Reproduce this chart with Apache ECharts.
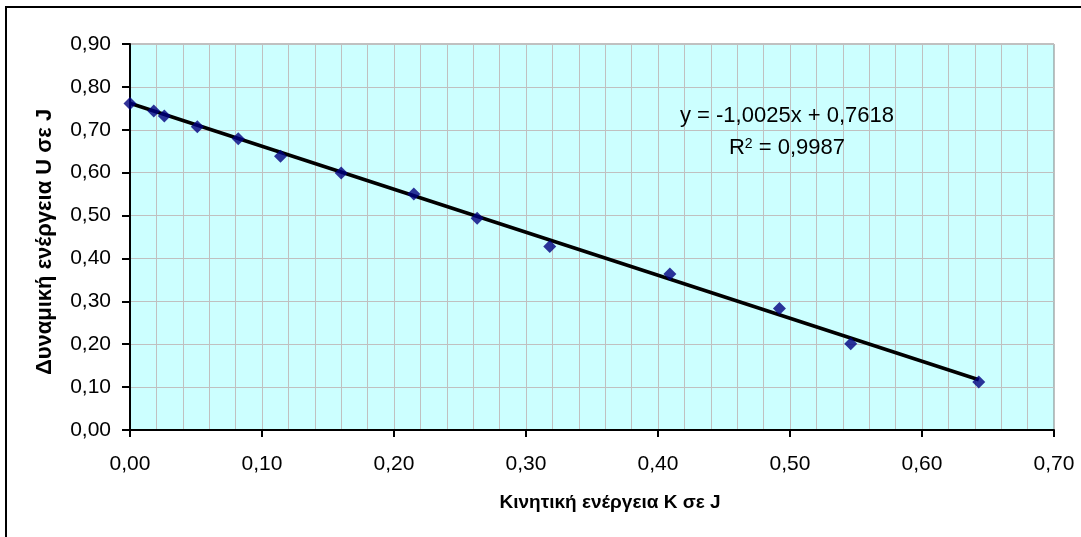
<!DOCTYPE html>
<html>
<head>
<meta charset="utf-8">
<script src="https://cdn.jsdelivr.net/npm/echarts@6/dist/echarts.min.js"></script>
<style>
  html, body { margin: 0; padding: 0; background: #fff; }
  #main { width: 1081px; height: 537px; }
</style>
</head>
<body>
<div id="main"></div>
<script>
// Measured points: kinetic energy K (J) vs potential energy U (J)
const kinetic = [0.000, 0.018, 0.026, 0.051, 0.082, 0.114, 0.160, 0.215, 0.263, 0.318, 0.409, 0.492, 0.546, 0.643];
const potential = [0.761, 0.744, 0.732, 0.707, 0.679, 0.638, 0.599, 0.550, 0.494, 0.428, 0.364, 0.283, 0.201, 0.112];

// Linear trend line endpoints (y = -1,0025x + 0,7618)
const trendX = [0.000, 0.643];
const trendY = [0.7618, 0.1172];

const equationText = "y = -1,0025x + 0,7618";
const xTitle = "Κινητική ενέργεια K σε J";
const yTitle = "Δυναμική ενέργεια U σε J";

const font = "'Liberation Sans', Arial, sans-serif";
const gridColor = "#c0c0c0";
const fmt = (v) => v.toFixed(2).replace(".", ",");

const chart = echarts.init(document.getElementById("main"));
chart.setOption({
  animation: false,
  backgroundColor: "#ffffff",
  grid: {
    left: 130,
    right: 27,
    top: 44,
    bottom: 107,
    show: true,
    backgroundColor: "#ccffff",
    borderColor: "#808080",
    borderWidth: 1
  },
  xAxis: {
    type: "value",
    min: 0,
    max: 0.7,
    interval: 0.1,
    axisLine: { show: true, onZero: false, lineStyle: { color: "#000", width: 2 } },
    axisTick: { show: true, length: 7, lineStyle: { color: "#000", width: 2 } },
    axisLabel: { formatter: fmt, color: "#000", fontSize: 21, fontFamily: font, margin: 24 },
    splitLine: { show: true, lineStyle: { color: gridColor, width: 1 } },
    minorTick: { show: false, splitNumber: 5 },
    minorSplitLine: { show: true, lineStyle: { color: gridColor, width: 1 } }
  },
  yAxis: {
    type: "value",
    min: 0,
    max: 0.9,
    interval: 0.1,
    axisLine: { show: true, onZero: false, lineStyle: { color: "#000", width: 2 } },
    axisTick: { show: true, length: 8, lineStyle: { color: "#000", width: 2 } },
    axisLabel: { formatter: fmt, color: "#000", fontSize: 21, fontFamily: font, margin: 19 },
    splitLine: { show: true, lineStyle: { color: gridColor, width: 1 } }
  },
  series: [
    {
      name: "trend",
      type: "line",
      data: trendX.map((x, i) => [x, trendY[i]]),
      showSymbol: false,
      lineStyle: { color: "#000", width: 3.5 },
      z: 3
    },
    {
      name: "U",
      type: "scatter",
      data: kinetic.map((x, i) => [x, potential[i]]),
      symbol: "diamond",
      symbolSize: [13, 13],
      itemStyle: { color: "#000080" },
      z: 4
    }
  ],
  graphic: [
    {
      type: "rect",
      shape: { x: 6, y: 7, width: 1200, height: 700 },
      style: { fill: null, stroke: "#000", lineWidth: 2 },
      silent: true
    },
    {
      type: "text",
      x: 610,
      y: 503,
      style: {
        text: xTitle, fill: "#000", font: "bold 19px " + font,
        textAlign: "center", textVerticalAlign: "middle"
      }
    },
    {
      type: "text",
      x: 45,
      y: 242,
      rotation: Math.PI / 2,
      style: {
        text: yTitle, fill: "#000", font: "bold 22px " + font,
        textAlign: "center", textVerticalAlign: "middle"
      }
    },
    {
      type: "text",
      x: 787,
      y: 116,
      z: 10,
      style: {
        text: equationText, fill: "#000", font: "22px " + font,
        textAlign: "center", textVerticalAlign: "middle"
      }
    },
    {
      type: "text",
      x: 787,
      y: 148,
      z: 10,
      style: {
        rich: {
          n: { fontSize: 22, fontFamily: font, fill: "#000" },
          sup: { fontSize: 14, fontFamily: font, fill: "#000", verticalAlign: "top", padding: [0, 0, 8, 0] }
        },
        text: "{n|R}{sup|2}{n| = 0,9987}",
        textAlign: "center", textVerticalAlign: "middle"
      }
    }
  ]
});
</script>
</body>
</html>
